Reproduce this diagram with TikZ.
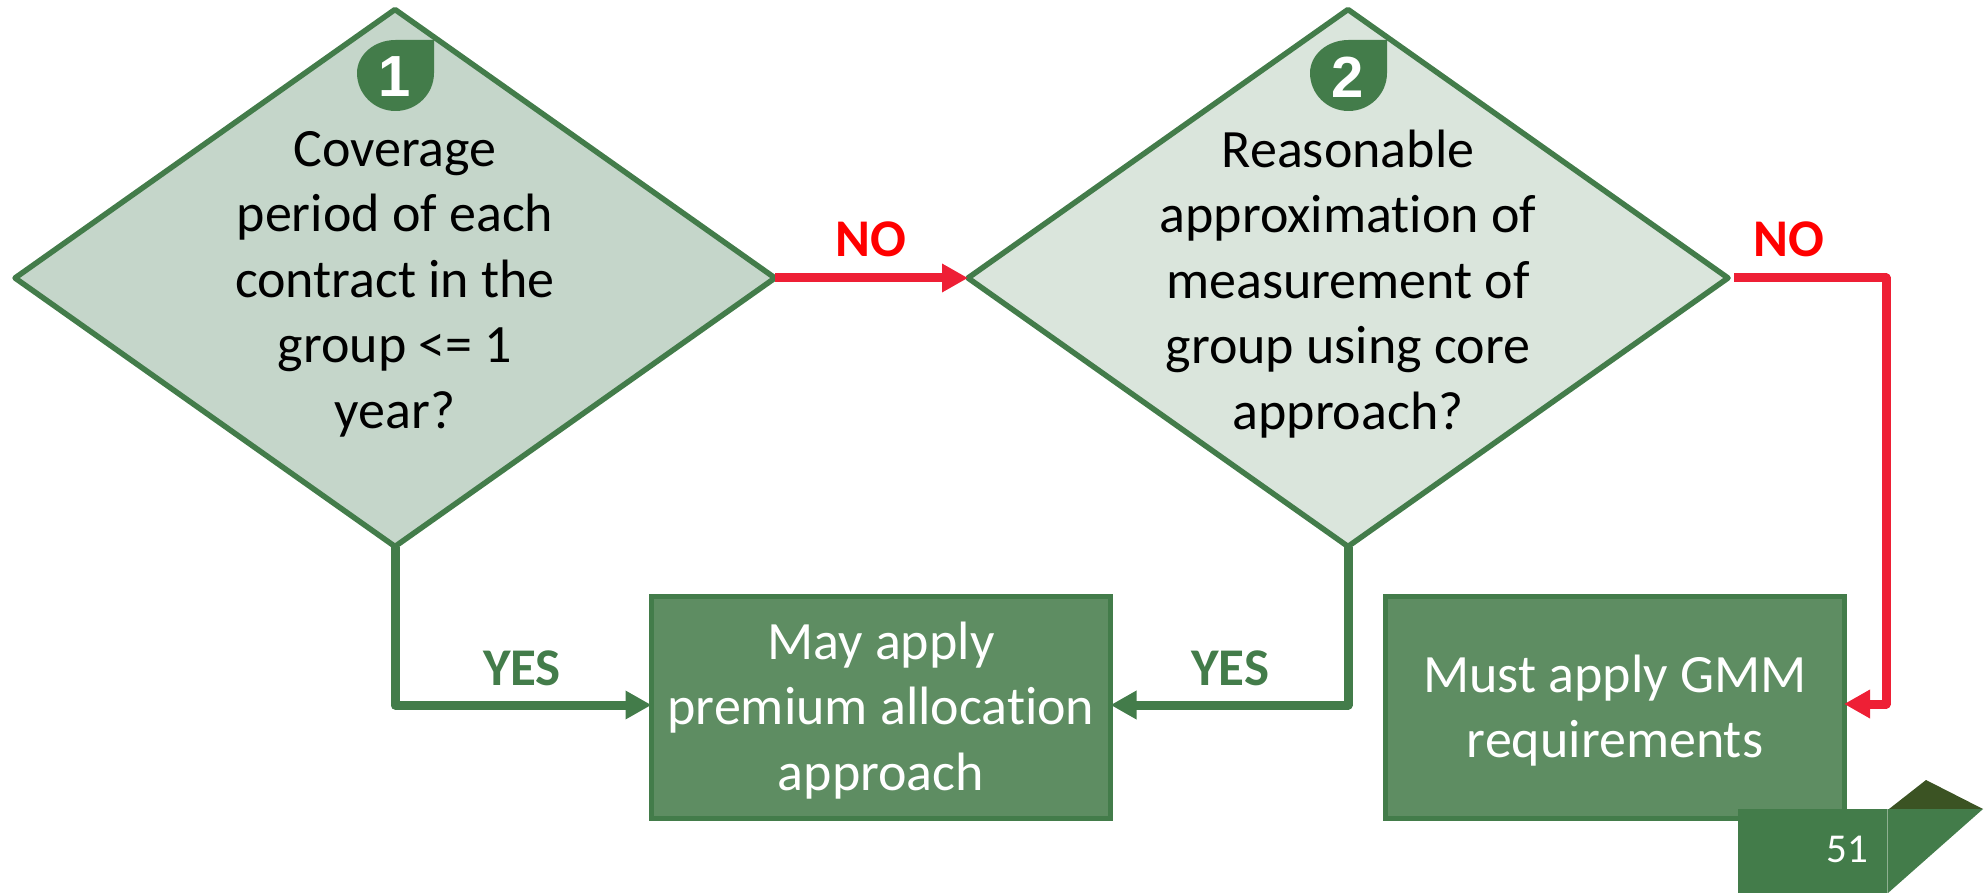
\documentclass[tikz,border=0pt]{standalone}
\usepackage{fontspec}
\setmainfont{Carlito}[Ligatures=NoCommon]
\newfontfamily\digitfont{Liberation Sans}
\usetikzlibrary{shapes.geometric,arrows.meta}
\definecolor{gline}{HTML}{437C4A}
\definecolor{dfillA}{HTML}{C5D6CA}
\definecolor{dfillB}{HTML}{DAE5DC}
\definecolor{bfill}{HTML}{5E8D62}
\definecolor{redline}{HTML}{EE1F35}
\definecolor{darktri}{HTML}{3B5323}
\tikzset{
  decision/.style={diamond,draw=gline,line width=5.5pt,inner sep=0pt,outer sep=0pt,line join=round,minimum width=760pt,minimum height=537pt,shape aspect=1.415},
  result/.style={rectangle,draw=gline,fill=bfill,line width=5pt,minimum width=459pt,minimum height=222pt,inner sep=0pt,outer sep=0pt},
  bodytext/.style={align=center,font=\fontsize{54}{65.5}\selectfont,inner sep=0pt},
  yesno/.style={font=\fontsize{53}{58}\selectfont\bfseries,inner sep=0pt},
  redarrow/.style={draw=redline,line width=9pt,line join=round,-{Triangle[length=26pt,width=27pt]}},
  greenarrow/.style={draw=gline,line width=9pt,line join=round,-{Triangle[length=26pt,width=27pt]}},
  badgetext/.style={font=\fontsize{58}{58}\selectfont\digitfont\bfseries,text=white,inner sep=0pt}
}
\begin{document}
\begin{tikzpicture}[x=1pt,y=-1pt]
\useasboundingbox (0,0) rectangle (1984,893);
\node[decision,fill=dfillA] (d1) at (395,278) {};
\node[decision,fill=dfillB] (d2) at (1348,278) {};
\node[result] (b1) at (881,707) {};
\node[result] (b2) at (1614.5,707) {};
\node[bodytext] (t1) at (395,284) {Coverage\\period of each\\contract in the\\group <= 1\\year?};
\node[bodytext] (t2) at (1348,284) {Reasonable\\approximation of\\measurement of\\group using core\\approach?};
\node[bodytext,text=white] (t3) at (881,710.5) {May apply\\premium allocation\\approach};
\node[bodytext,text=white] (t4) at (1615,710.5) {Must apply GMM\\requirements};
% numbered badges
\fill[gline] (434,40) -- (434,73) arc[start angle=0,end angle=180,x radius=38.5,y radius=38] arc[start angle=180,end angle=270,x radius=38.5,y radius=33] -- cycle;
\node[badgetext] (n1) at (395,77) {1};
\fill[gline] (1387,40) -- (1387,73) arc[start angle=0,end angle=180,x radius=38.5,y radius=38] arc[start angle=180,end angle=270,x radius=38.5,y radius=33] -- cycle;
\node[badgetext] (n2) at (1348,77) {2};
% connectors
\coordinate (c0) at ([xshift=6pt]d2.east);
\coordinate (c1) at (1886,278);
\coordinate (c2) at (1886,704);
\coordinate (c3) at (395,705);
\coordinate (c4) at (1348,705);
\draw[redarrow] (d1.east) -- (d2.west);
\draw[redarrow] (c0) -- (c1) -- (c2) -- (b2.east |- c2);
\draw[greenarrow] (d1.south) -- (c3) -- (b1.west |- c3);
\draw[greenarrow] (d2.south) -- (c4) -- (b1.east |- c4);
\node[yesno,text=red] (no1) at (871,239) {NO};
\node[yesno,text=red] (no2) at (1789,239) {NO};
\node[yesno,text=gline] (yes1) at (522,668) {YES};
\node[yesno,text=gline] (yes2) at (1230,668) {YES};
% page badge
\fill[darktri] (1889,809) -- (1926,780) -- (1983,809) -- cycle;
\fill[gline] (1738,809) rectangle (1887,893);
\fill[gline] (1888,809) -- (1983,809) -- (1888,893) -- cycle;
\draw[bfill!70!white,line width=1pt] (1887.5,809) -- (1887.5,893);
\node[font=\fontsize{41}{44}\selectfont,text=white,inner sep=0pt] (pg) at (1847,849) {51};
\end{tikzpicture}
\end{document}
